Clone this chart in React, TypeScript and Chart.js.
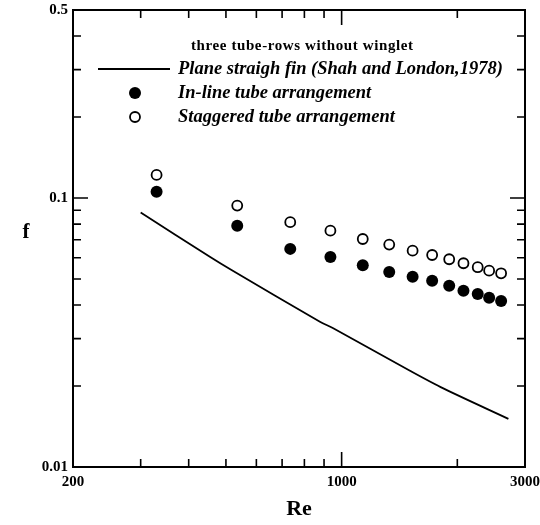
import React, { useEffect, useRef } from "react";
import { Chart, registerables } from "chart.js";

Chart.register(...registerables);

// ---- data ----
const reValues = [330, 535, 735, 935, 1135, 1330, 1530, 1720, 1905, 2075, 2260, 2420, 2600];
const inlineF = [0.1056, 0.0788, 0.0647, 0.0604, 0.0562, 0.0531, 0.051, 0.0493, 0.0472, 0.0452, 0.044, 0.0426, 0.0414];
const staggeredF = [0.1219, 0.0937, 0.0813, 0.0756, 0.0704, 0.0671, 0.0637, 0.0614, 0.0592, 0.0572, 0.0553, 0.0537, 0.0525];
const plainRe = [300, 454, 517, 878, 951, 1506, 1839, 2716];
const plainF = [0.0883, 0.0605, 0.054, 0.0347, 0.0328, 0.0228, 0.0196, 0.0151];

const xTicks = [200, 300, 400, 500, 600, 700, 800, 900, 1000, 2000, 3000];
const xLabels = [200, 1000, 3000];
const yTicks = [0.01, 0.02, 0.03, 0.04, 0.05, 0.06, 0.07, 0.08, 0.09, 0.1, 0.2, 0.3, 0.4, 0.5];
const yLabels = [0.01, 0.1, 0.5];

const seriesNames = [
  "Plane straigh fin (Shah and London,1978)",
  "In-line tube arrangement",
  "Staggered tube arrangement",
];
const legendTitle = "three tube-rows without winglet";
const xTitle = "Re";
const yTitle = "f";

const SERIF = '"Liberation Serif", "Times New Roman", serif';

const framePlugin = {
  id: "frameTicks",
  afterDraw(chart: any) {
    const { ctx, chartArea } = chart;
    const { left, right, top, bottom } = chartArea;
    const xs = chart.scales.x;
    const ys = chart.scales.y;
    ctx.save();
    ctx.strokeStyle = "#000";
    ctx.lineWidth = 1.6;
    xTicks.forEach((v) => {
      const px = xs.getPixelForValue(v);
      const len = v === 1000 ? 15 : 8;
      ctx.beginPath();
      ctx.moveTo(px, bottom);
      ctx.lineTo(px, bottom - len);
      ctx.moveTo(px, top);
      ctx.lineTo(px, top + len);
      ctx.stroke();
    });
    yTicks.forEach((v) => {
      const py = ys.getPixelForValue(v);
      const len = v === 0.1 ? 15 : 8;
      ctx.beginPath();
      ctx.moveTo(left, py);
      ctx.lineTo(left + len, py);
      ctx.moveTo(right, py);
      ctx.lineTo(right - len, py);
      ctx.stroke();
    });
    ctx.lineWidth = 2;
    ctx.strokeRect(left, top, right - left, bottom - top);

    // y title (upright)
    ctx.fillStyle = "#000";
    ctx.font = `bold 21px ${SERIF}`;
    ctx.textAlign = "center";
    ctx.textBaseline = "middle";
    ctx.fillText(yTitle, 26, 233);

    // legend
    const ds = chart.data.datasets;
    ctx.font = `bold 15px ${SERIF}`;
    ctx.textAlign = "left";
    (ctx as any).letterSpacing = "0.6px";
    ctx.fillText(legendTitle, 191, 46);
    (ctx as any).letterSpacing = "0px";

    ctx.font = `italic bold 18.5px ${SERIF}`;
    const rows = [69, 93, 117];
    const tx = 178;
    // line sample
    ctx.strokeStyle = ds[0].borderColor;
    ctx.lineWidth = ds[0].borderWidth;
    ctx.beginPath();
    ctx.moveTo(98, rows[0]);
    ctx.lineTo(170, rows[0]);
    ctx.stroke();
    ctx.fillText(ds[0].label, tx, rows[0]);
    // markers
    [1, 2].forEach((i, k) => {
      const d = ds[i];
      ctx.beginPath();
      ctx.arc(135, rows[k + 1], d.pointRadius, 0, Math.PI * 2);
      ctx.fillStyle = d.pointBackgroundColor;
      ctx.fill();
      if (d.pointBorderWidth > 0) {
        ctx.strokeStyle = d.pointBorderColor;
        ctx.lineWidth = d.pointBorderWidth;
        ctx.stroke();
      }
      ctx.fillStyle = "#000";
      ctx.fillText(d.label, tx, rows[k + 1]);
    });
    ctx.restore();
  },
};

export default function App() {
  const ref = useRef<HTMLCanvasElement | null>(null);
  useEffect(() => {
    if (!ref.current) return;
    const chart = new Chart(ref.current, {
      type: "scatter",
      data: {
        datasets: [
          {
            label: seriesNames[0],
            data: plainRe.map((x, i) => ({ x, y: plainF[i] })),
            showLine: true,
            borderColor: "#000",
            borderWidth: 1.8,
            pointRadius: 0,
            tension: 0.3,
          } as any,
          {
            label: seriesNames[1],
            data: reValues.map((x, i) => ({ x, y: inlineF[i] })),
            pointRadius: 6,
            pointBackgroundColor: "#000",
            pointBorderColor: "#000",
            pointBorderWidth: 0,
          },
          {
            label: seriesNames[2],
            data: reValues.map((x, i) => ({ x, y: staggeredF[i] })),
            pointRadius: 5,
            pointBackgroundColor: "#fff",
            pointBorderColor: "#000",
            pointBorderWidth: 1.8,
          },
        ],
      },
      options: {
        responsive: false,
        animation: false,
        layout: { padding: { top: 10, right: 15, left: 0, bottom: 0 } },
        plugins: { legend: { display: false }, tooltip: { enabled: false } },
        scales: {
          x: {
            type: "logarithmic",
            min: 200,
            max: 3000,
            afterBuildTicks: (s: any) => {
              s.ticks = xTicks.map((v) => ({ value: v }));
            },
            afterFit: (s: any) => {
              s.height = 58;
              s.paddingLeft = 0;
              s.paddingRight = 0;
            },
            grid: { display: false, drawTicks: false },
            border: { display: false },
            ticks: {
              autoSkip: false,
              maxRotation: 0,
              padding: 6,
              color: "#000",
              font: { family: SERIF, size: 15, weight: "bold" },
              callback: (v: any) => (xLabels.includes(Number(v)) ? String(v) : ""),
            },
            title: {
              display: true,
              text: xTitle,
              color: "#000",
              font: { family: SERIF, size: 22, weight: "bold" },
              padding: { top: 0, bottom: 2 },
            },
          },
          y: {
            type: "logarithmic",
            min: 0.01,
            max: 0.5,
            afterBuildTicks: (s: any) => {
              s.ticks = yTicks.map((v) => ({ value: v }));
            },
            afterFit: (s: any) => {
              s.width = 73;
              s.paddingTop = 0;
              s.paddingBottom = 0;
            },
            grid: { display: false, drawTicks: false },
            border: { display: false },
            ticks: {
              autoSkip: false,
              padding: 5,
              color: "#000",
              font: { family: SERIF, size: 15, weight: "bold" },
              callback: (v: any) => (yLabels.includes(Number(v)) ? String(v) : ""),
            },
          },
        },
      },
      plugins: [framePlugin],
    });
    return () => chart.destroy();
  }, []);
  return (
    <div style={{ position: "absolute", left: 0, top: 0, width: 540, height: 525, background: "#fff" }}>
      <canvas ref={ref} width={540} height={525} />
    </div>
  );
}
